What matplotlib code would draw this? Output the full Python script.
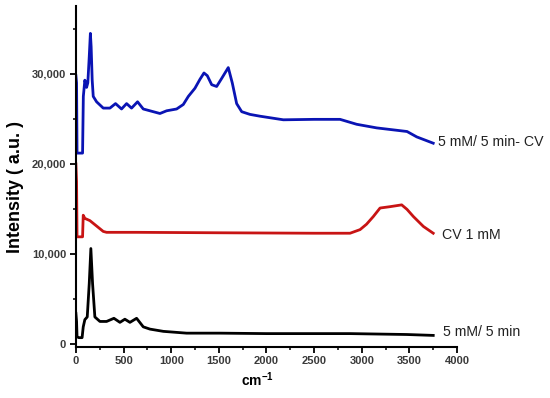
import matplotlib
matplotlib.use("Agg")
import matplotlib.pyplot as plt
from matplotlib.ticker import MultipleLocator, FuncFormatter

plt.rcParams['font.family'] = ['Liberation Sans', 'DejaVu Sans']
plt.rcParams['mathtext.fontset'] = 'custom'
plt.rcParams['mathtext.bf'] = 'Liberation Sans:bold'
plt.rcParams['mathtext.rm'] = 'Liberation Sans:bold'

# blue: 5 mM/ 5 min- CV
x_blue = [0, 7, 12, 40, 70, 78, 94, 112, 125, 140, 152, 160, 171, 182, 217, 287, 357, 416,
          479, 532, 584, 647, 707, 777, 882, 952, 1057, 1127, 1180, 1249, 1302, 1344, 1379,
          1425, 1477, 1530, 1599, 1641, 1687, 1740, 1827, 1932, 2177, 2500, 2772, 2947,
          3157, 3475, 3577, 3750]
y_blue = [29800, 29000, 21200, 21200, 21200, 27500, 29300, 28500, 29000, 31900, 34500, 33000,
          29300, 27500, 26900, 26200, 26200, 26700, 26100, 26700, 26200, 26900, 26100, 25900,
          25600, 25900, 26100, 26600, 27500, 28400, 29400, 30100, 29800, 28800, 28600, 29500,
          30700, 29000, 26700, 25800, 25500, 25300, 24900, 24950, 24950, 24400, 24000, 23600,
          23000, 22300]

# red: CV 1 mM
x_red = [0, 7, 12, 70, 77, 94, 147, 217, 287, 322, 637, 1500, 2500, 2877, 2982, 3050,
         3121, 3192, 3297, 3419, 3475, 3542, 3647, 3750]
y_red = [20000, 18000, 11900, 11900, 14300, 13950, 13700, 13100, 12500, 12400, 12400, 12350,
         12300, 12300, 12700, 13300, 14150, 15100, 15250, 15450, 14950, 14150, 13050, 12300]

# black: 5 mM/ 5 min
x_black = [0, 7, 12, 30, 65, 77, 94, 119, 140, 157, 175, 199, 252, 322, 399, 462, 514, 567,
           637, 707, 777, 917, 1162, 1512, 2000, 2877, 3472, 3750]
y_black = [3400, 2500, 800, 700, 700, 1900, 2700, 3000, 6700, 10600, 6700, 3000, 2500, 2500,
           2850, 2400, 2750, 2400, 2850, 1900, 1650, 1400, 1200, 1200, 1150, 1150, 1050, 950]

labels = ['5 mM/ 5 min- CV', 'CV 1 mM', '5 mM/ 5 min']
label_x = [3800, 3840, 3850]
label_y = [22450, 12100, 1330]

fig = plt.figure(figsize=(5.5, 3.98), dpi=100)
ax = fig.add_axes([0.138, 0.129, 0.693, 0.855])

ax.plot(x_blue, y_blue, color='#0a14b4', lw=2.0)
ax.plot(x_red, y_red, color='#c81414', lw=2.0)
ax.plot(x_black, y_black, color='black', lw=2.0)

for lab, lx, ly in zip(labels, label_x, label_y):
    ax.text(lx, ly, lab, fontsize=10.2, va='center', ha='left', color='#222222', clip_on=False)

ax.set_xlim(0, 4000)
ax.set_ylim(-300, 37500)
ax.spines['top'].set_visible(False)
ax.spines['right'].set_visible(False)
for s in ['left', 'bottom']:
    ax.spines[s].set_linewidth(1.5)

ax.xaxis.set_major_locator(MultipleLocator(500))
ax.xaxis.set_minor_locator(MultipleLocator(250))
ax.yaxis.set_major_locator(MultipleLocator(10000))
ax.yaxis.set_minor_locator(MultipleLocator(5000))
ax.yaxis.set_major_formatter(FuncFormatter(lambda v, p: f'{int(v):,}'))
ax.tick_params(which='major', direction='out', length=4, width=1.3, labelsize=8,
               labelcolor='#3a3a3a', pad=3)
ax.tick_params(which='minor', direction='out', length=2.5, width=1.1)
for t in ax.get_xticklabels() + ax.get_yticklabels():
    t.set_fontweight('bold')

fig.text(257 / 550, 1 - 380 / 398, r'$\mathbf{cm^{-1}}$', ha='center', va='center', fontsize=10)
fig.text(16 / 550, 1 - 187 / 398, 'Intensity ( a.u. )', rotation=90, ha='center', va='center',
         fontsize=13, fontweight='bold')

fig.savefig('out.png', dpi=100)
